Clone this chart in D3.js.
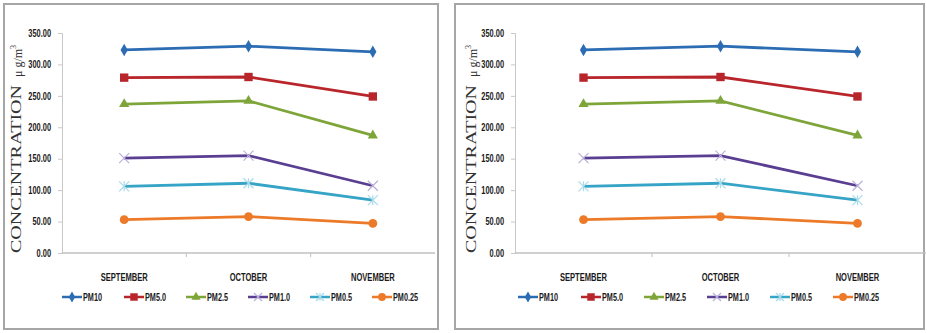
<!DOCTYPE html>
<html>
<head>
<meta charset="utf-8">
<script src="https://cdn.jsdelivr.net/npm/d3@7"></script>
<style>
  body { margin: 0; background: #fff; }
  svg { display: block; }
</style>
</head>
<body>
<div id="chart"></div>
<script>
// months on the x axis
var months = ["SEPTEMBER", "OCTOBER", "NOVEMBER"];
// series names (legend order)
var seriesNames = ["PM10", "PM5.0", "PM2.5", "PM1.0", "PM0.5", "PM0.25"];
// values per series, Sep / Oct / Nov
var pm10  = [323, 329, 320];
var pm50  = [279, 280, 249];
var pm25  = [237, 242, 187];
var pm10s = [151, 155, 107];
var pm05  = [106, 111, 84];
var pm025 = [53, 58, 47];
var yTicks = [0, 50, 100, 150, 200, 250, 300, 350];

var seriesValues = [pm10, pm50, pm25, pm10s, pm05, pm025];
var colors = ["#2b6cb3", "#b8262c", "#7ea53a", "#5a3e92", "#36a4c6", "#ec7a28"];
var symbols = ["diamond", "square", "triangle", "x", "star", "circle"];

var W = 927, H = 333;
var svg = d3.select("#chart").append("svg")
  .attr("width", W).attr("height", H);

var labelFont = "'Liberation Sans', Arial, sans-serif";

// two identical panels, slightly different sizes
var panels = [
  {fx: 4, fy: 4, fw: 434, fh: 325, ax: 62, axEnd: 435, titleX: 21, legX: 62, legStep: 62},
  {fx: 455, fy: 4, fw: 469, fh: 325, ax: 515, axEnd: 926, titleX: 476, legX: 518, legStep: 63}
];

panels.forEach(function(p) { drawPanel(p); });

// squeeze text horizontally to mimic a narrow font
function condense(sel, k) {
  sel.each(function() {
    var w = this.getComputedTextLength();
    d3.select(this).attr("textLength", w * k).attr("lengthAdjust", "spacingAndGlyphs");
  });
}

function drawPanel(p) {
  var g = svg.append("g");

  g.append("rect")
    .attr("x", p.fx).attr("y", p.fy)
    .attr("width", p.fw).attr("height", p.fh)
    .attr("fill", "#fff")
    .attr("stroke", "#a6a6a6")
    .attr("stroke-width", 2);

  var x = d3.scaleBand().domain(months).range([p.ax, p.axEnd]).padding(0);
  var y = d3.scaleLinear().domain([0, 350]).range([253, 33]);

  // y axis
  var yAxis = g.append("g")
    .attr("transform", "translate(" + p.ax + ",0)")
    .call(d3.axisLeft(y).tickValues(yTicks).tickFormat(d3.format(".2f")).tickSize(4).tickPadding(7));
  yAxis.select(".domain").attr("stroke", "#c8c8c8");
  yAxis.selectAll(".tick line").attr("stroke", "#c8c8c8");
  yAxis.selectAll("text")
    .style("font-family", labelFont)
    .style("font-weight", "bold")
    .style("font-size", "10px")
    .attr("fill", "#1a1a1a")
    .call(condense, 0.74);

  // x axis
  g.append("line")
    .attr("x1", p.ax).attr("x2", p.axEnd)
    .attr("y1", y(0)).attr("y2", y(0))
    .attr("stroke", "#c0c0c0").attr("stroke-width", 1.5);
  g.selectAll(".xtick").data(months.slice(1)).enter().append("line")
    .attr("x1", function(d) { return x(d); })
    .attr("x2", function(d) { return x(d); })
    .attr("y1", y(0)).attr("y2", y(0) + 4)
    .attr("stroke", "#c0c0c0");
  g.selectAll(".xlab").data(months).enter().append("text")
    .attr("x", function(d) { return x(d) + x.bandwidth() / 2; })
    .attr("y", 281)
    .attr("text-anchor", "middle")
    .style("font-family", labelFont)
    .style("font-weight", "bold")
    .style("font-size", "10.5px")
    .attr("fill", "#1a1a1a")
    .text(function(d) { return d; })
    .call(condense, 0.72);

  // axis title
  var t = g.append("text")
    .attr("transform", "translate(" + p.titleX + ",253) rotate(-90)")
    .style("font-family", "'Liberation Serif', 'Times New Roman', serif")
    .attr("fill", "#333");
  t.append("tspan").style("font-size", "15px").attr("textLength", 168)
    .attr("lengthAdjust", "spacingAndGlyphs").text("CONCENTRATION");
  t.append("tspan").style("font-size", "12px").attr("dx", 8).attr("dy", 1).text("\u03bc g/m");
  t.append("tspan").style("font-size", "8px").attr("dy", -6).text("3");

  var line = d3.line()
    .x(function(d, i) { return x(months[i]) + x.bandwidth() / 2; })
    .y(function(d) { return y(d); });

  seriesValues.forEach(function(vals, si) {
    g.append("path")
      .datum(vals)
      .attr("d", line)
      .attr("fill", "none")
      .attr("stroke", colors[si])
      .attr("stroke-width", 2.8);
    g.selectAll(".m" + si).data(vals).enter().append("g")
      .attr("transform", function(d, i) {
        return "translate(" + (x(months[i]) + x.bandwidth() / 2) + "," + y(d) + ")";
      })
      .each(function() { drawMarker(d3.select(this), si, 1); });
  });

  // legend
  var leg = g.selectAll(".leg").data(seriesNames).enter().append("g")
    .attr("transform", function(d, i) { return "translate(" + (p.legX + i * p.legStep) + ",297)"; });
  leg.append("line")
    .attr("x1", 0).attr("x2", 20)
    .attr("stroke", function(d, i) { return colors[i]; })
    .attr("stroke-width", 2.5);
  leg.append("g").attr("transform", "translate(10,0)")
    .each(function(d, i) { drawMarker(d3.select(this), i, 0.8); });
  leg.append("text")
    .attr("x", 21).attr("y", 4)
    .style("font-family", labelFont)
    .style("font-weight", "bold")
    .style("font-size", "11px")
    .attr("fill", "#1a1a1a")
    .text(function(d) { return d; })
    .call(condense, 0.66);
}

function drawMarker(sel, si, k) {
  var c = colors[si];
  var type = symbols[si];
  if (type === "diamond") {
    sel.append("path").attr("d", d3.symbol(d3.symbolDiamond, 45 * k)()).attr("fill", c);
  } else if (type === "square") {
    sel.append("path").attr("d", d3.symbol(d3.symbolSquare, 70 * k)()).attr("fill", c);
  } else if (type === "triangle") {
    sel.append("path").attr("d", d3.symbol(d3.symbolTriangle, 45 * k)()).attr("fill", c);
  } else if (type === "circle") {
    sel.append("path").attr("d", d3.symbol(d3.symbolCircle, 60 * k)()).attr("fill", c);
  } else if (type === "x") {
    var r = 5 * k;
    sel.append("path").attr("d", "M" + -r + "," + -r + "L" + r + "," + r + "M" + -r + "," + r + "L" + r + "," + -r)
      .attr("stroke", "#b9b0d9").attr("stroke-width", 1.2);
  } else if (type === "star") {
    var s = 5 * k;
    sel.append("path").attr("d", "M" + -s + "," + -s + "L" + s + "," + s + "M" + -s + "," + s + "L" + s + "," + -s + "M0," + -s + "L0," + s)
      .attr("stroke", "#a9dbe9").attr("stroke-width", 1.2);
  }
}
</script>
</body>
</html>
